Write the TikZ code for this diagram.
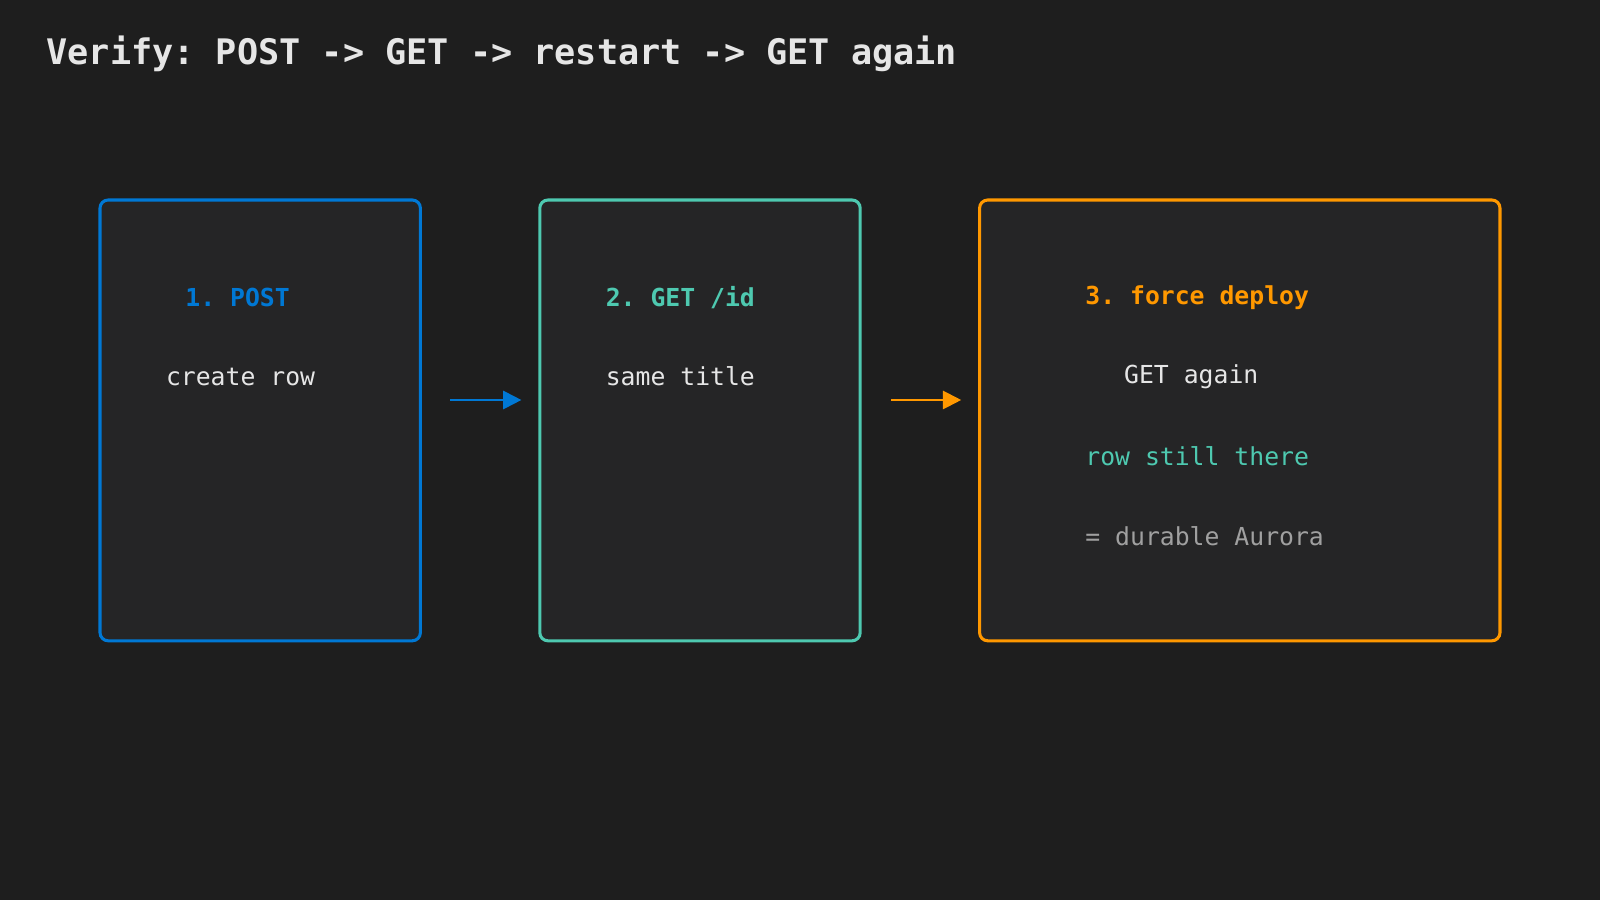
\documentclass[tikz,border=0pt]{standalone}
\usepackage{fontspec}
\setmonofont{DejaVu Sans Mono}
\usetikzlibrary{arrows.meta}
\definecolor{bgcol}{HTML}{1E1E1E}
\definecolor{boxcol}{HTML}{252526}
\definecolor{postcol}{HTML}{0078D4}
\definecolor{getcol}{HTML}{4EC9B0}
\definecolor{deploycol}{HTML}{FF9800}
\definecolor{txtcol}{HTML}{E6E6E6}
\definecolor{dimcol}{HTML}{A0A0A0}
\begin{document}
\begin{tikzpicture}[x=0.01cm,y=-0.01cm,
    stepbox/.style={line width=0.3mm,rounded corners=0.8mm,fill=boxcol},
    lbl/.style={anchor=west,inner sep=0,font=\ttfamily\fontsize{6.9pt}{8pt}\selectfont},
    hdr/.style={lbl,font=\ttfamily\bfseries\fontsize{6.9pt}{8pt}\selectfont},
    flow/.style={line width=0.2mm,-{Triangle[length=1.8mm,width=1.8mm]}}]
  \fill[bgcol] (0,0) rectangle (1568,882);
  \useasboundingbox (0,0) rectangle (1568,882);
  % title
  \node[lbl,font=\ttfamily\bfseries\fontsize{9.8pt}{11pt}\selectfont,text=txtcol] (title) at (45,53) {Verify: POST -> GET -> restart -> GET again};
  % boxes
  \draw[stepbox,draw=postcol] (98,196) rectangle (412,628);
  \draw[stepbox,draw=getcol] (529,196) rectangle (843,628);
  \draw[stepbox,draw=deploycol] (960,196) rectangle (1470,628);
  \coordinate (b1) at (412,392);
  \coordinate (b2w) at (529,392);
  \coordinate (b2) at (843,392);
  \coordinate (b3w) at (960,392);
  % step 1
  \node[hdr,text=postcol] (post) at (181,292) {1. POST};
  \node[lbl,text=txtcol] (create) at (162,369) {create row};
  % step 2
  \node[hdr,text=getcol] (get) at (593,292) {2. GET /id};
  \node[lbl,text=txtcol] (same) at (593,369) {same title};
  % step 3
  \node[hdr,text=deploycol] (deploy) at (1063,292) {3. force deploy};
  \node[lbl,text=txtcol] (again) at (1101,369) {GET again};
  \node[lbl,text=getcol] (still) at (1063,447) {row still there};
  \node[lbl,text=dimcol] (durable) at (1063,525) {= durable Aurora};
  % arrows
  \draw[flow,postcol,shorten <=0.29cm,shorten >=0.18cm] (b1) -- (b2w);
  \draw[flow,deploycol,shorten <=0.30cm,shorten >=0.18cm] (b2) -- (b3w);
\end{tikzpicture}
\end{document}
